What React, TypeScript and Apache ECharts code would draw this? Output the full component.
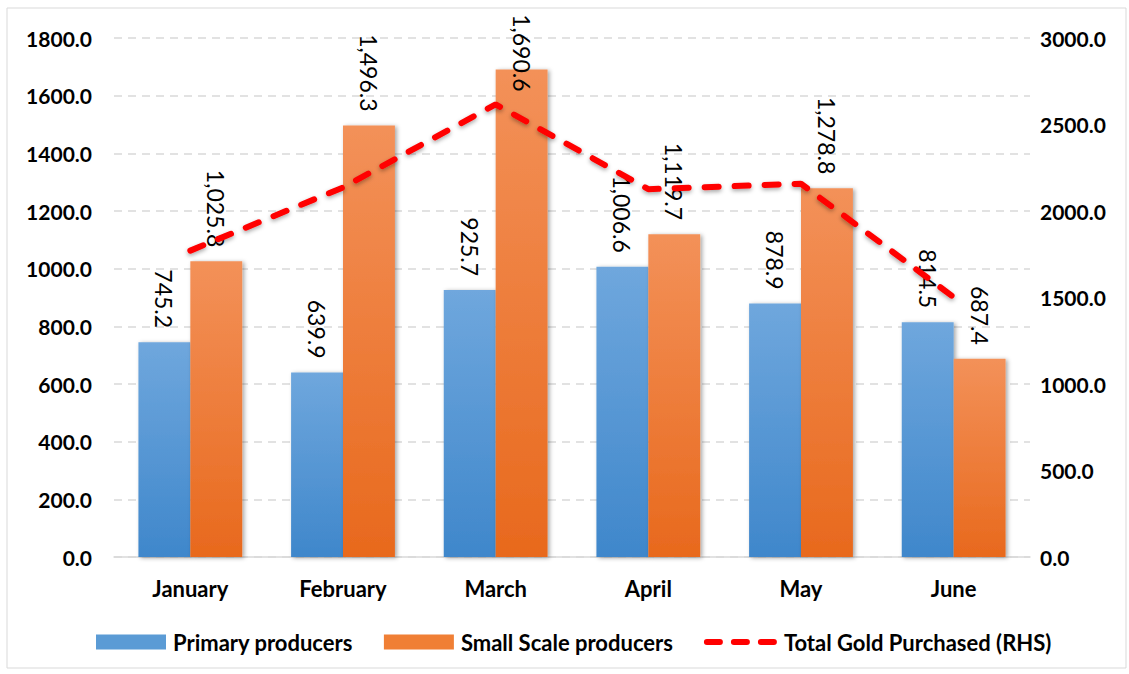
import React, { useEffect, useRef } from "react";
import * as echarts from "echarts";

const months = ["January", "February", "March", "April", "May", "June"];
const primary = [745.2, 639.9, 925.7, 1006.6, 878.9, 814.5];
const smallScale = [1025.8, 1496.3, 1690.6, 1119.7, 1278.8, 687.4];
const totalGold = [1771.0, 2136.2, 2616.3, 2126.3, 2157.7, 1501.9];

const fmt = (v: number) =>
  v.toLocaleString("en-US", { minimumFractionDigits: 1, maximumFractionDigits: 1 });

const FONT = "Lato";

export default function App() {
  const ref = useRef<HTMLDivElement>(null);
  useEffect(() => {
    const chart = echarts.init(ref.current!, null, { renderer: "svg" });
    const labelCfg = {
      show: true,
      position: "top",
      rotate: -90,
      align: "right",
      verticalAlign: "middle",
      distance: 14,
      fontFamily: FONT,
      fontSize: 23,
      color: "#000",
      formatter: (p: any) => fmt(p.value),
    };
    const axisFont = {
      fontFamily: FONT,
      fontSize: 21,
      fontWeight: "bold",
      color: "#000",
    };
    chart.setOption({
      animation: false,
      backgroundColor: "#fff",
      graphic: [
        {
          type: "rect",
          shape: { x: 7, y: 8, width: 1119, height: 660 },
          style: { fill: "none", stroke: "#d9d9d9", lineWidth: 1 },
          silent: true,
        },
      ],
      grid: { left: 114, right: 99, top: 38, bottom: 117 },
      legend: {
        top: 626,
        left: 91,
        itemGap: 31,
        itemWidth: 70,
        itemHeight: 15,
        textStyle: { fontFamily: FONT, fontSize: 22, fontWeight: "bold", color: "#000", padding: [0, 0, 0, 2] },
        data: [
          { name: "Primary producers", icon: "rect", itemStyle: { color: "#5B9BD5" } },
          { name: "Small Scale producers", icon: "rect", itemStyle: { color: "#F07F35" } },
          {
            name: "Total Gold Purchased (RHS)",
            itemStyle: { opacity: 0 },
            lineStyle: { color: "#FF0000", width: 6, type: [13, 14], cap: "round" },
          },
        ],
      },
      xAxis: {
        type: "category",
        data: months,
        axisLine: { lineStyle: { color: "#d9d9d9", width: 1.5 } },
        axisTick: { show: false },
        axisLabel: { ...axisFont, fontSize: 22, margin: 20 },
      },
      yAxis: [
        {
          type: "value",
          min: 0,
          max: 1800,
          interval: 200,
          axisLabel: { ...axisFont, margin: 22, formatter: (v: number) => v.toFixed(1) },
          splitLine: { lineStyle: { color: "#d9d9d9", type: [8, 6], width: 1.5 } },
          axisLine: { show: false },
        },
        {
          type: "value",
          min: 0,
          max: 3000,
          interval: 500,
          position: "right",
          axisLabel: { ...axisFont, margin: 10, formatter: (v: number) => v.toFixed(1) },
          splitLine: { show: false },
          axisLine: { show: false },
        },
      ],
      series: [
        {
          name: "Primary producers",
          type: "bar",
          data: primary,
          barGap: "0%",
          barCategoryGap: "32%",
          itemStyle: {
            color: new echarts.graphic.LinearGradient(0, 0, 0, 1, [
              { offset: 0, color: "#6FA7DD" },
              { offset: 1, color: "#3F87CB" },
            ]),
            shadowColor: "rgba(0,0,0,0.35)",
            shadowBlur: 4,
            shadowOffsetX: 2,
            shadowOffsetY: 1,
          },
          label: labelCfg,
        },
        {
          name: "Small Scale producers",
          type: "bar",
          data: smallScale.map((v) =>
            v === Math.max(...smallScale) ? { value: v, label: { distance: -22 } } : v
          ),
          itemStyle: {
            color: new echarts.graphic.LinearGradient(0, 0, 0, 1, [
              { offset: 0, color: "#F39159" },
              { offset: 1, color: "#E8691D" },
            ]),
            shadowColor: "rgba(0,0,0,0.35)",
            shadowBlur: 4,
            shadowOffsetX: 2,
            shadowOffsetY: 1,
          },
          label: labelCfg,
        },
        {
          name: "Total Gold Purchased (RHS)",
          type: "line",
          yAxisIndex: 1,
          data: totalGold,
          symbol: "none",
          color: "#FF0000",
          lineStyle: {
            color: "#FF0000",
            width: 6,
            type: [14, 16],
            cap: "round",
            shadowColor: "rgba(0,0,0,0.35)",
            shadowBlur: 4,
            shadowOffsetY: 2,
          },
          z: 5,
        },
      ],
    });
    return () => chart.dispose();
  }, []);
  return (
    <div
      ref={ref}
      style={{ position: "fixed", left: 0, top: 0, width: 1129, height: 674 }}
    />
  );
}
